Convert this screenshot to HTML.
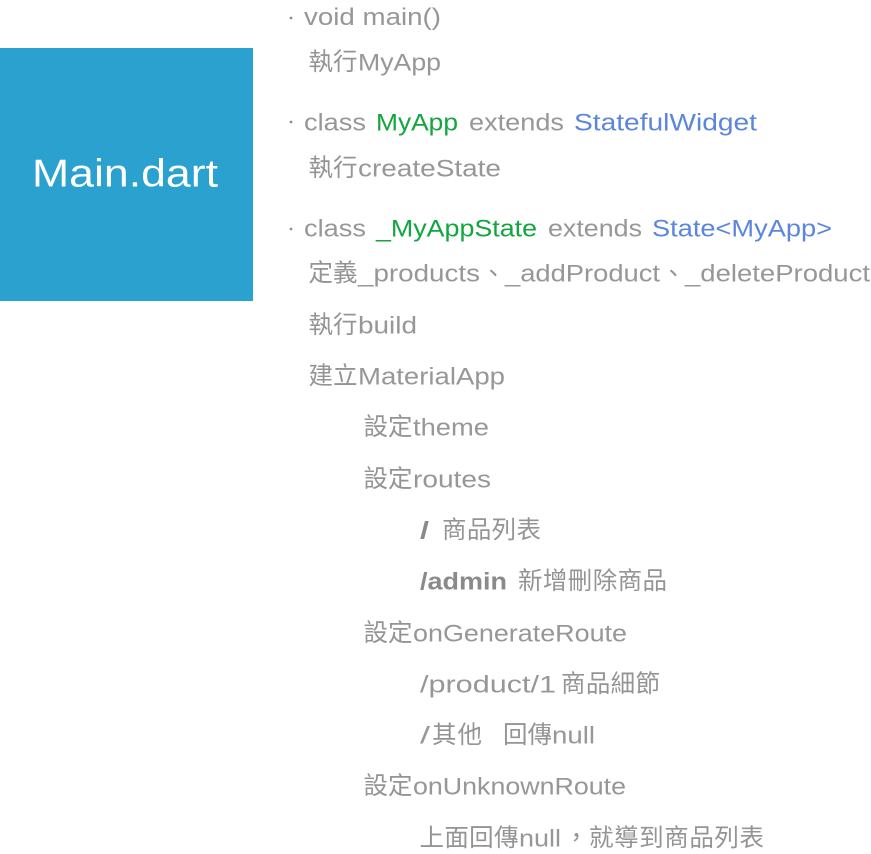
<!DOCTYPE html>
<html><head><meta charset="utf-8"><style>
html,body{margin:0;padding:0;background:#fff;width:871px;height:854px;overflow:hidden}
svg{display:block}
text{font-family:"Liberation Sans","Noto Sans CJK TC",sans-serif;font-size:24.5px;fill:#979797}
.c{font-size:24.5px;fill:#949494}
.g{fill:#12a63e}
.b{fill:#5b86dc}
.k{font-weight:bold;fill:#8a8a8a}
</style></head><body>
<svg width="871" height="854" viewBox="0 0 871 854" xmlns="http://www.w3.org/2000/svg">
<rect x="0" y="48" width="253" height="253" fill="#2aa1cf"/>
<text x="32" y="186.500" textLength="186" lengthAdjust="spacingAndGlyphs" style="font-size:39px;fill:#fff">Main.dart</text>
<circle cx="291" cy="18" r="1.4" fill="#8f8f8f"/>
<circle cx="291" cy="122" r="1.4" fill="#8f8f8f"/>
<circle cx="291" cy="229" r="1.4" fill="#8f8f8f"/>

<text x="304" y="25" textLength="137" lengthAdjust="spacingAndGlyphs">void main()</text>
<text class="c" x="308.500" y="70" textLength="49">執行</text><text x="358" y="70.500" textLength="83" lengthAdjust="spacingAndGlyphs">MyApp</text>

<text x="304" y="130.500" textLength="62" lengthAdjust="spacingAndGlyphs">class</text>
<text class="g" x="376" y="130.500" textLength="82" lengthAdjust="spacingAndGlyphs">MyApp</text>
<text x="469" y="130.500" textLength="95" lengthAdjust="spacingAndGlyphs">extends</text>
<text class="b" x="574" y="130.500" textLength="183" lengthAdjust="spacingAndGlyphs">StatefulWidget</text>
<text class="c" x="308.500" y="176" textLength="49">執行</text><text x="358" y="176.500" textLength="143" lengthAdjust="spacingAndGlyphs">createState</text>

<text x="304" y="236.500" textLength="62" lengthAdjust="spacingAndGlyphs">class</text>
<text class="g" x="376" y="236.500" textLength="161" lengthAdjust="spacingAndGlyphs">_MyAppState</text>
<text x="548" y="236.500" textLength="94" lengthAdjust="spacingAndGlyphs">extends</text>
<text class="b" x="652" y="236.500" textLength="180" lengthAdjust="spacingAndGlyphs">State&lt;MyApp&gt;</text>
<text class="c" x="308.500" y="281" textLength="49">定義</text><text x="358" y="281.500" textLength="122" lengthAdjust="spacingAndGlyphs">_products</text>
<text class="c" x="481" y="282">、</text><text x="505" y="281.500" textLength="155" lengthAdjust="spacingAndGlyphs">_addProduct</text>
<text class="c" x="661" y="282">、</text><text x="685" y="281.500" textLength="185" lengthAdjust="spacingAndGlyphs">_deleteProduct</text>

<text class="c" x="308.500" y="333" textLength="49">執行</text><text x="358" y="333.500" textLength="59" lengthAdjust="spacingAndGlyphs">build</text>
<text class="c" x="308.500" y="384" textLength="49">建立</text><text x="358" y="384.500" textLength="147" lengthAdjust="spacingAndGlyphs">MaterialApp</text>
<text class="c" x="363.500" y="435" textLength="49">設定</text><text x="413" y="435.500" textLength="76" lengthAdjust="spacingAndGlyphs">theme</text>
<text class="c" x="363.500" y="487" textLength="49">設定</text><text x="413" y="487.500" textLength="78" lengthAdjust="spacingAndGlyphs">routes</text>
<text class="k" x="420" y="538.500" textLength="9" lengthAdjust="spacingAndGlyphs">/</text><text class="c" x="442" y="538" textLength="99">商品列表</text>
<text class="k" x="420" y="589.500" textLength="87" lengthAdjust="spacingAndGlyphs">/admin</text><text class="c" x="518" y="589" textLength="149">新增刪除商品</text>
<text class="c" x="363.500" y="641" textLength="49">設定</text><text x="413" y="641.500" textLength="214" lengthAdjust="spacingAndGlyphs">onGenerateRoute</text>
<text x="420" y="692.500" textLength="136" lengthAdjust="spacingAndGlyphs">/product/1</text><text class="c" x="561" y="692" textLength="99">商品細節</text>
<text x="420" y="743.500" textLength="10" lengthAdjust="spacingAndGlyphs">/</text><text class="c" x="432" y="743" textLength="50">其他</text><text class="c" x="503" y="743" textLength="49">回傳</text><text x="552" y="743.500" textLength="43" lengthAdjust="spacingAndGlyphs">null</text>
<text class="c" x="363.500" y="794" textLength="49">設定</text><text x="413" y="794.500" textLength="213" lengthAdjust="spacingAndGlyphs">onUnknownRoute</text>
<text class="c" x="419.500" y="846" textLength="99">上面回傳</text><text x="519" y="846.500" textLength="42" lengthAdjust="spacingAndGlyphs">null</text><text class="c" x="564" y="846">，</text><text class="c" x="589" y="846" textLength="175">就導到商品列表</text>
</svg>
</body></html>
